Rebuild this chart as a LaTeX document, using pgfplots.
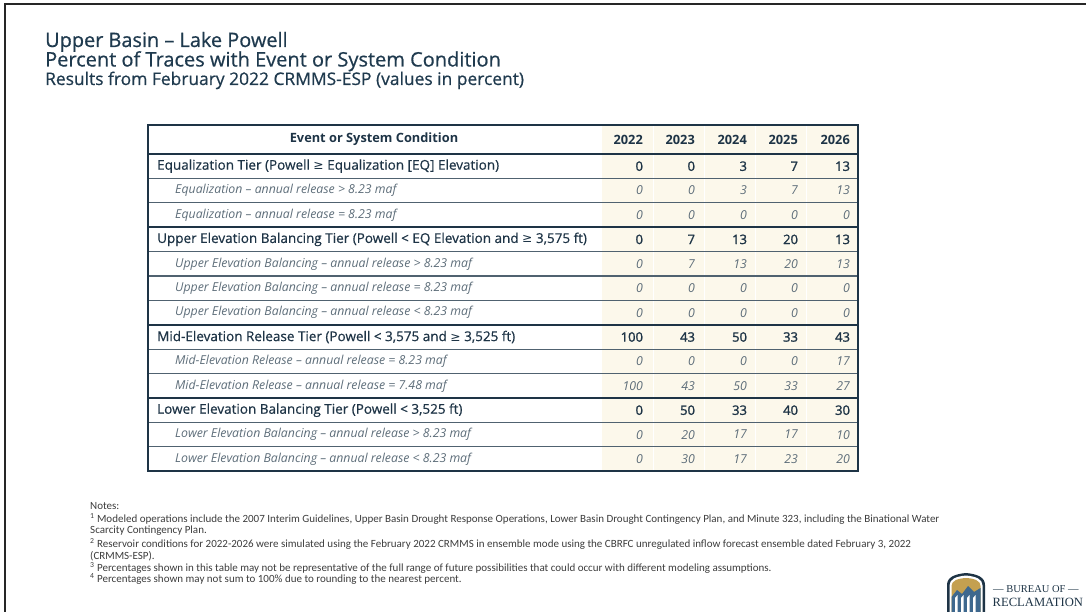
\documentclass[border=0pt]{standalone}
\usepackage{fontspec}
\setmainfont{Open Sans}
\newfontfamily\medfont[FakeBold=0.6]{Open Sans}
\newfontfamily\semifont[FakeBold=1.4]{Open Sans}
\newfontfamily\notefont{Carlito}
\newfontfamily\symfont{DejaVu Sans}
\newfontfamily\logofont{Liberation Serif}
\usepackage{pgfplots}
\usepackage{pgfplotstable}
\pgfplotsset{compat=1.18}

\definecolor{navy}{RGB}{30,52,70}
\definecolor{subtxt}{RGB}{93,109,121}
\definecolor{thinl}{RGB}{80,98,112}
\definecolor{beige}{RGB}{252,248,235}
\definecolor{titlec}{RGB}{31,58,78}
\definecolor{notec}{RGB}{60,60,60}
\definecolor{gold}{RGB}{196,160,80}
\definecolor{logoblue}{RGB}{62,104,142}

% rows: r = row index in table body (1..13)
\pgfplotstableread{
r y2022 y2023 y2024 y2025 y2026
1 0 0 3 7 13
4 0 7 13 20 13
8 100 43 50 33 43
11 0 50 33 40 30
}\tiers
\pgfplotstableread{
r y2022 y2023 y2024 y2025 y2026
2 0 0 3 7 13
3 0 0 0 0 0
5 0 7 13 20 13
6 0 0 0 0 0
7 0 0 0 0 0
9 0 0 0 0 17
10 100 43 50 33 27
12 0 20 17 17 10
13 0 30 17 23 20
}\subs

\newcommand\GE{{\symfont\fontsize{12.3}{14}\selectfont ≥}}
\pgfplotsset{tabcell/.style={draw=none, mark=none, nodes near coords,
  point meta=explicit symbolic,
  every node near coord/.append style={anchor=east, inner sep=0pt, outer sep=0pt}}}
\newcommand\colplot[4]{\addplot[tabcell, every node near coord/.append style={#4}]
  table[x expr=#3, y expr=154+(\thisrow{r}-0.5)*24.4, meta=#2] {#1};}

\begin{document}
\begin{tikzpicture}
\begin{axis}[name=ax, at={(0,0)}, anchor=south west,
  width=1086pt, height=612pt, scale only axis,
  xmin=0, xmax=1086, ymin=0, ymax=612, y dir=reverse, hide axis]

% slide frame
\draw[line width=2pt, black!85] (5,612) -- (5,4) -- (1086,4);

% titles
\node[anchor=base west, inner sep=0pt, text=titlec, font=\medfont\fontsize{19.9}{22}\selectfont] at (45,47) {Upper Basin – Lake Powell};
\node[anchor=base west, inner sep=0pt, text=titlec, font=\medfont\fontsize{20}{22}\selectfont] at (45,66.5) {Percent of Traces with Event or System Condition};
\node[anchor=base west, inner sep=0pt, text=titlec, font=\medfont\fontsize{17.4}{20}\selectfont] at (45,85) {Results from February 2022 CRMMS-ESP (values in percent)};

% table background
\fill[beige] (602,125) rectangle (858,471.2);
\pgfplotsinvokeforeach{653,704,755,806}{\draw[white, line width=0.9pt] (#1,125) -- (#1,471.2);}

% thin row lines
\pgfplotsinvokeforeach{178.4,202.8,251.6,276.0,300.4,349.2,373.6,422.4,446.8}{\draw[thinl, line width=1.2pt] (148,#1) -- (858,#1);}
% thick lines
\pgfplotsinvokeforeach{154,227.2,324.8,398}{\draw[navy, line width=2.4pt] (148,#1) -- (858,#1);}
\draw[navy, line width=2.4pt] (148,125) rectangle (858,471.2);

% header
\tikzset{hdr/.style={anchor=east, inner sep=0pt, text=navy, font=\bfseries\fontsize{12.8}{14}\selectfont}}
\node[hdr, anchor=center] at (374,139.5) {Event or System Condition};
\node[hdr] at (643,139.5) {2022};
\node[hdr] at (695,139.5) {2023};
\node[hdr] at (747,139.5) {2024};
\node[hdr] at (798,139.5) {2025};
\node[hdr] at (850,139.5) {2026};

% row labels
\tikzset{tierlab/.style={anchor=west, inner sep=0pt, text=navy, font=\medfont\fontsize{13.5}{15}\selectfont},
         sublab/.style={anchor=west, inner sep=0pt, text=subtxt, font=\itshape\fontsize{12.3}{14}\selectfont}}
\node[tierlab] at (157,166.2) {Equalization Tier (Powell \GE{} Equalization [EQ] Elevation)};
\node[sublab] at (175,190.6) {Equalization – annual release > 8.23 maf};
\node[sublab] at (175,215.0) {Equalization – annual release = 8.23 maf};
\node[tierlab] at (157,239.4) {Upper Elevation Balancing Tier (Powell < EQ Elevation and \GE{} 3,575 ft)};
\node[sublab] at (175,263.8) {Upper Elevation Balancing – annual release > 8.23 maf};
\node[sublab] at (175,288.2) {Upper Elevation Balancing – annual release = 8.23 maf};
\node[sublab] at (175,312.6) {Upper Elevation Balancing – annual release < 8.23 maf};
\node[tierlab] at (157,337.0) {Mid-Elevation Release Tier (Powell < 3,575 and \GE{} 3,525 ft)};
\node[sublab] at (175,361.4) {Mid-Elevation Release – annual release = 8.23 maf};
\node[sublab] at (175,385.8) {Mid-Elevation Release – annual release = 7.48 maf};
\node[tierlab] at (157,410.2) {Lower Elevation Balancing Tier (Powell < 3,525 ft)};
\node[sublab] at (175,434.6) {Lower Elevation Balancing – annual release > 8.23 maf};
\node[sublab] at (175,459.0) {Lower Elevation Balancing – annual release < 8.23 maf};

% values
\colplot{\tiers}{y2022}{643}{text=navy, font=\semifont\fontsize{13}{15}\selectfont}
\colplot{\tiers}{y2023}{695}{text=navy, font=\semifont\fontsize{13}{15}\selectfont}
\colplot{\tiers}{y2024}{747}{text=navy, font=\semifont\fontsize{13}{15}\selectfont}
\colplot{\tiers}{y2025}{798}{text=navy, font=\semifont\fontsize{13}{15}\selectfont}
\colplot{\tiers}{y2026}{850}{text=navy, font=\semifont\fontsize{13}{15}\selectfont}
\colplot{\subs}{y2022}{643}{text=subtxt, font=\itshape\fontsize{12.3}{14}\selectfont}
\colplot{\subs}{y2023}{695}{text=subtxt, font=\itshape\fontsize{12.3}{14}\selectfont}
\colplot{\subs}{y2024}{747}{text=subtxt, font=\itshape\fontsize{12.3}{14}\selectfont}
\colplot{\subs}{y2025}{798}{text=subtxt, font=\itshape\fontsize{12.3}{14}\selectfont}
\colplot{\subs}{y2026}{850}{text=subtxt, font=\itshape\fontsize{12.3}{14}\selectfont}

% notes
\tikzset{note/.style={anchor=base west, inner sep=0pt, text=notec, font=\notefont\fontsize{11}{12}\selectfont}}
\node[note] at (90,509.5) {Notes:};
\node[note] at (90,522.5) {\textsuperscript{1} Modeled operations include the 2007 Interim Guidelines, Upper Basin Drought Response Operations, Lower Basin Drought Contingency Plan, and Minute 323, including the Binational Water};
\node[note] at (90,533.5) {Scarcity Contingency Plan.};
\node[note] at (90,547.5) {\textsuperscript{2} Reservoir conditions for 2022-2026 were simulated using the February 2022 CRMMS in ensemble mode using the CBRFC unregulated inflow forecast ensemble dated February 3, 2022};
\node[note] at (90,559) {(CRMMS-ESP).};
\node[note] at (90,571.5) {\textsuperscript{3} Percentages shown in this table may not be representative of the full range of future possibilities that could occur with different modeling assumptions.};
\node[note] at (90,582.5) {\textsuperscript{4} Percentages shown may not sum to 100\% due to rounding to the nearest percent.};

% logo
\fill[navy] (947,613) -- (947,585) .. controls (947,577) and (955,574) .. (966,573) .. controls (977,574) and (985,577) .. (985,585) -- (985,613) -- cycle;
\fill[white] (949.5,613) -- (949.5,585.5) .. controls (949.5,579) and (956,576.5) .. (966,575.5) .. controls (976,576.5) and (982.5,579) .. (982.5,585.5) -- (982.5,613) -- cycle;
\fill[gold] (951.5,613) -- (951.5,586) .. controls (951.5,581) and (957,578.5) .. (966,578) .. controls (975,578.5) and (980.5,581) .. (980.5,586) -- (980.5,613) -- cycle;
\fill[logoblue] (951.5,613) -- (951.5,597) -- (957,590) -- (962,594) -- (968,586) -- (974,592) -- (980.5,588) -- (980.5,613) -- cycle;
\pgfplotsinvokeforeach{955,961,967,973}{\fill[white] (#1,613) -- (#1,598) -- ([xshift=2.5pt]#1,595) -- ([xshift=2.5pt]#1,613) -- cycle;}
\node[anchor=base west, inner sep=0pt, text=navy, font=\logofont\fontsize{10.5}{12}\selectfont] at (993,592) {— BUREAU OF —};
\node[anchor=base west, inner sep=0pt, text=navy, font=\logofont\fontsize{12.6}{14}\selectfont] at (992.5,606) {RECLAMATION};
\end{axis}
\pgfresetboundingbox
\useasboundingbox (ax.south west) rectangle (ax.north east);
\end{tikzpicture}
\end{document}
